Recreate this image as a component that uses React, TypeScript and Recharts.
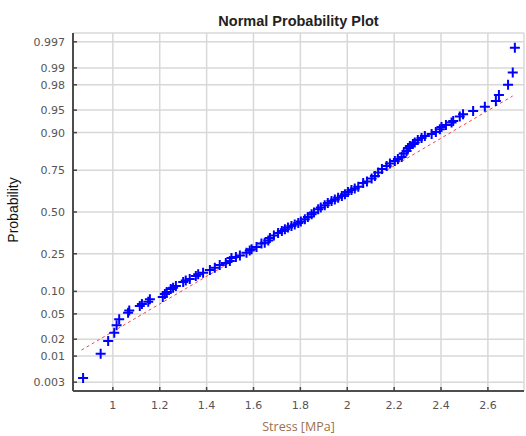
import React from 'react';
import { ScatterChart, Scatter, XAxis, YAxis, CartesianGrid } from 'recharts';

// sorted stress values, with their plotted probabilities
const stress = [
  0.873, 0.948, 0.98, 1.006, 1.016, 1.027, 1.065, 1.07, 1.115, 1.124,
  1.151, 1.158, 1.213, 1.222, 1.23, 1.247, 1.257, 1.269, 1.3, 1.311,
  1.328, 1.354, 1.364, 1.385, 1.414, 1.435, 1.456, 1.482, 1.499, 1.506,
  1.525, 1.542, 1.57, 1.584, 1.592, 1.613, 1.634, 1.648, 1.663, 1.67,
  1.687, 1.705, 1.721, 1.734, 1.747, 1.762, 1.776, 1.791, 1.802, 1.819,
  1.832, 1.848, 1.858, 1.876, 1.887, 1.904, 1.917, 1.933, 1.947, 1.961,
  1.977, 1.99, 2.003, 2.018, 2.032, 2.047, 2.068, 2.084, 2.104, 2.118,
  2.132, 2.148, 2.168, 2.182, 2.203, 2.216, 2.232, 2.241, 2.253, 2.259,
  2.267, 2.28, 2.288, 2.301, 2.317, 2.331, 2.36, 2.378, 2.395, 2.402,
  2.421, 2.445, 2.452, 2.48, 2.494, 2.537, 2.587, 2.634, 2.647, 2.686,
  2.706, 2.715,
];
const probability = [
  0.0037, 0.011, 0.0186, 0.0256, 0.0336, 0.0415, 0.0519, 0.0561, 0.0644, 0.0686,
  0.0737, 0.0793, 0.0849, 0.0926, 0.0981, 0.1068, 0.1107, 0.116, 0.129, 0.134,
  0.1396, 0.1506, 0.157, 0.1633, 0.1744, 0.184, 0.196, 0.205, 0.214, 0.2287,
  0.2336, 0.241, 0.2553, 0.267, 0.2733, 0.286, 0.3054, 0.31, 0.3227, 0.3372,
  0.352, 0.3673, 0.3794, 0.39, 0.4013, 0.4106, 0.42, 0.4294, 0.439, 0.453,
  0.468, 0.485, 0.497, 0.5174, 0.529, 0.543, 0.558, 0.5706, 0.58, 0.5913,
  0.602, 0.6126, 0.6267, 0.6388, 0.648, 0.6587, 0.68, 0.689, 0.7058, 0.7196,
  0.7383, 0.7564, 0.7713, 0.7833, 0.795, 0.804, 0.8129, 0.8277, 0.8378, 0.8494,
  0.8568, 0.864, 0.8692, 0.8776, 0.884, 0.8903, 0.8962, 0.9018, 0.9092, 0.9151,
  0.92, 0.9255, 0.9292, 0.9386, 0.9428, 0.9486, 0.9555, 0.9635, 0.9706, 0.98,
  0.9878, 0.996,
];

// dashed reference line end points
const fitStress = [0.866, 2.706];
const fitProbability = [0.0129, 0.9695];

const xTicks = [1, 1.2, 1.4, 1.6, 1.8, 2, 2.2, 2.4, 2.6];
const yTickProbs = [0.003, 0.01, 0.02, 0.05, 0.1, 0.25, 0.5, 0.75, 0.9, 0.95, 0.98, 0.99, 0.997];
const yTickLabels = ['0.003', '0.01', '0.02', '0.05', '0.10', '0.25', '0.50', '0.75', '0.90', '0.95', '0.98', '0.99', '0.997'];

// inverse normal cdf (Acklam) -> probability axis is linear in z
function invNorm(p: number): number {
  const a = [-39.69683028665376, 220.9460984245205, -275.9285104469687, 138.357751867269, -30.66479806614716, 2.506628277459239];
  const b = [-54.47609879822406, 161.5858368580409, -155.6989798598866, 66.80131188771972, -13.28068155288572];
  const c = [-0.007784894002430293, -0.3223964580411365, -2.400758277161838, -2.549732539343734, 4.374664141464968, 2.938163982698783];
  const d = [0.007784695709041462, 0.3224671290700398, 2.445134137142996, 3.754408661907416];
  const plow = 0.02425;
  if (p < plow) {
    const q = Math.sqrt(-2 * Math.log(p));
    return (((((c[0] * q + c[1]) * q + c[2]) * q + c[3]) * q + c[4]) * q + c[5]) / ((((d[0] * q + d[1]) * q + d[2]) * q + d[3]) * q + 1);
  }
  if (p > 1 - plow) {
    const q = Math.sqrt(-2 * Math.log(1 - p));
    return -(((((c[0] * q + c[1]) * q + c[2]) * q + c[3]) * q + c[4]) * q + c[5]) / ((((d[0] * q + d[1]) * q + d[2]) * q + d[3]) * q + 1);
  }
  const q = p - 0.5;
  const r = q * q;
  return (((((a[0] * r + a[1]) * r + a[2]) * r + a[3]) * r + a[4]) * r + a[5]) * q / (((((b[0] * r + b[1]) * r + b[2]) * r + b[3]) * r + b[4]) * r + 1);
}

const points = stress.map((s, i) => ({ x: s, z: invNorm(probability[i]) }));
const fitLine = fitStress.map((s, i) => ({ x: s, z: invNorm(fitProbability[i]) }));
const yTicks = yTickProbs.map(invNorm);

const tickFont = 'DejaVu Sans, sans-serif';

const YTick = (props: any) => {
  const { x, y, index } = props;
  return (
    <g>
      <line x1={x} x2={x + 4} y1={y} y2={y} stroke="#444" strokeWidth={1.5} />
      <text x={x - 8} y={y} dy={4} textAnchor="end" fontSize={11} fill="#555" fontFamily={tickFont}>{yTickLabels[index]}</text>
    </g>
  );
};

const XTick = (props: any) => {
  const { x, y, payload } = props;
  return (
    <g>
      <line x1={x} x2={x} y1={y} y2={y - 4} stroke="#444" strokeWidth={1.5} />
      <text x={x} y={y + 18} textAnchor="middle" fontSize={11} fill="#555" fontFamily={tickFont}>{String(payload.value)}</text>
    </g>
  );
};

const PlusMark = (props: any) => {
  const { cx, cy } = props;
  if (cx == null || cy == null) return <g />;
  return <path d={`M${cx - 5},${cy}H${cx + 5}M${cx},${cy - 5}V${cy + 5}`} stroke="#0000ff" strokeWidth={2} fill="none" />;
};

export default function App() {
  return (
    <div style={{ position: 'absolute', left: 0, top: 0, width: 526, height: 436, background: '#fff' }}>
      <div style={{ position: 'absolute', left: 73, width: 451, top: 13, lineHeight: '16px', textAlign: 'center', fontFamily: 'Liberation Sans, Arial, sans-serif', fontWeight: 'bold', fontSize: 14.5, color: '#222' }}>
        Normal Probability Plot
      </div>
      <div style={{ position: 'absolute', left: 13, top: 210, transform: 'translate(-50%, -50%) rotate(-90deg)', whiteSpace: 'nowrap', fontFamily: 'Liberation Sans, Arial, sans-serif', fontSize: 14, color: '#111' }}>
        Probability
      </div>
      <div style={{ position: 'absolute', left: 73, width: 451, top: 419, lineHeight: '16px', textAlign: 'center', fontFamily: 'Open Sans, sans-serif', fontSize: 12.5, color: '#9a7050' }}>
        Stress [MPa]
      </div>
      <ScatterChart width={526} height={436} margin={{ top: 33, right: 2, bottom: 0, left: 8 }}>
        <CartesianGrid stroke="#d8d8d8" strokeWidth={1.5} />
        <XAxis type="number" dataKey="x" domain={[0.83, 2.754]} ticks={xTicks} interval={0} allowDataOverflow height={45}
          tickSize={0} tickMargin={0} tick={<XTick />} axisLine={{ stroke: '#4d4d4d', strokeWidth: 2 }} tickLine={false} />
        <YAxis type="number" dataKey="z" domain={[-2.89, 2.89]} ticks={yTicks} interval={0} allowDataOverflow width={65}
          tickSize={0} tickMargin={0} tick={<YTick />} axisLine={{ stroke: '#4d4d4d', strokeWidth: 2 }} tickLine={false} />
        <Scatter data={fitLine} line={{ stroke: '#f04848', strokeWidth: 1, strokeDasharray: '3 3' }} shape={() => <g />} isAnimationActive={false} />
        <Scatter data={points} shape={<PlusMark />} isAnimationActive={false} />
      </ScatterChart>
    </div>
  );
}
